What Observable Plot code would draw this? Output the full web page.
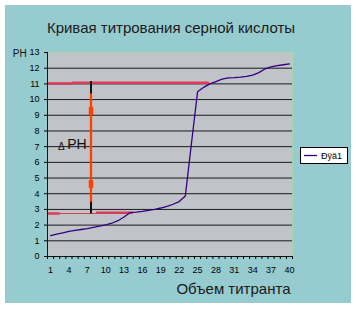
<!DOCTYPE html>
<html>
<head>
<meta charset="utf-8">
<script src="https://cdn.jsdelivr.net/npm/d3@7"></script>
<script src="https://cdn.jsdelivr.net/npm/@observablehq/plot@0.6"></script>
<style>
  html, body { margin: 0; padding: 0; background: #ffffff; }
  #chart { width: 356px; height: 309px; }
</style>
</head>
<body>
<div id="chart"></div>
<script>
// ---- data ----
const titleText = "Кривая титрования серной кислоты";
const yAxisLabel = "PH";
const xAxisTitle = "Объем титранта";
const seriesName = "Ðÿä1";

const volumes = [1,2,3,4,5,6,7,8,9,10,11,12,13,14,15,16,17,18,19,20,
                 21,22,23,24,25,26,27,28,29,30,31,32,33,34,35,36,37,38,39,40];
const phValues = [1.33,1.42,1.5,1.6,1.66,1.72,1.78,1.86,1.94,2.02,2.12,2.28,2.52,2.8,2.83,2.88,2.94,3.01,3.09,3.2,
                  3.33,3.5,3.85,7.2,10.5,10.78,11.0,11.15,11.3,11.38,11.4,11.43,11.48,11.56,11.72,11.95,12.08,12.17,12.22,12.27];

const xTickLabels = [1,4,7,10,13,16,19,22,25,28,31,34,37,40];
const yTicks = [0,1,2,3,4,5,6,7,8,9,10,11,12,13];
const gridLevels = [1,2,3,4,5,6,7,8,9,10,11,12];

// annotation: red reference levels and the ΔPH marker
const upperRed = [{x1: 0.5, x2: 4.6, y: 11.03}, {x1: 4.6, x2: 26.95, y: 11.08}];
const lowerRedThick = [{x1: 0.5, x2: 2.6, y: 2.74}, {x1: 8.5, x2: 14.5, y: 2.79}];
const lowerRedThin = [{x1: 2.6, x2: 8.5, y: 2.74}];
const deltaX = 7.6;
const blackSpan = [{y1: 2.72, y2: 11.15}];
const orangeSpan = [{y1: 3.46, y2: 10.36}];
const orangeBulges = [{y1: 8.98, y2: 9.5}, {y1: 4.33, y2: 4.84}];
const deltaSymbol = [{x: 2.2, y: 6.8, t: "Δ"}];
const deltaText = [{x: 3.72, y: 6.86, t: "PH"}];

const data = volumes.map((v, i) => ({v, ph: phValues[i]}));
const boundaries = d3.range(0.5, 41, 1);

const font = "'Liberation Sans', Arial, sans-serif";
const red = "#dc3c5a";
const orange = "#ff4000";

const chart = Plot.plot({
  width: 356,
  height: 309,
  marginLeft: 47,
  marginRight: 64,
  marginTop: 52,
  marginBottom: 53,
  x: {domain: [0.5, 40.5]},
  y: {domain: [0, 13]},
  style: {
    background: "linear-gradient(#96ccd0, #96ccd0) 5px 5px / 346px 298px no-repeat, #ffffff",
    fontFamily: font,
    color: "#000",
    overflow: "visible"
  },
  marks: [
    Plot.frame({fill: "#c0c4c8", stroke: null}),
    Plot.ruleY(gridLevels, {stroke: "#1a1a1a", strokeWidth: 1}),
    Plot.ruleY([13], {stroke: "#a6d8b4", strokeWidth: 1}),
    Plot.ruleX([40.5], {stroke: "#a6d8b4", strokeWidth: 1}),
    // red reference levels
    Plot.ruleY(upperRed, {x1: "x1", x2: "x2", y: "y", stroke: red, strokeWidth: 2.5}),
    Plot.ruleY(lowerRedThick, {x1: "x1", x2: "x2", y: "y", stroke: red, strokeWidth: 2.5}),
    Plot.ruleY(lowerRedThin, {x1: "x1", x2: "x2", y: "y", stroke: red, strokeWidth: 1}),
    // titration curve
    Plot.line(data, {x: "v", y: "ph", stroke: "#330080", strokeWidth: 1.3}),
    // ΔPH marker
    Plot.ruleX(blackSpan, {x: () => deltaX, y1: "y1", y2: "y2", stroke: "#111", strokeWidth: 2}),
    Plot.ruleX(orangeSpan, {x: () => deltaX, y1: "y1", y2: "y2", stroke: orange, strokeWidth: 2.3}),
    Plot.ruleX(orangeBulges, {x: () => deltaX, y1: "y1", y2: "y2", stroke: orange, strokeWidth: 4.5}),
    Plot.text(deltaSymbol, {x: "x", y: "y", text: "t", fontSize: 10, textAnchor: "start", lineAnchor: "bottom", fill: "#111"}),
    Plot.text(deltaText, {x: "x", y: "y", text: "t", fontSize: 14, textAnchor: "start", lineAnchor: "bottom", fill: "#111"}),
    // axis lines
    Plot.ruleY([0], {stroke: "#111", strokeWidth: 1}),
    Plot.ruleX([0.5], {stroke: "#111", strokeWidth: 1}),
    // axes
    Plot.axisY(yTicks, {tickSize: 3, tickPadding: 5, fontSize: 9, label: null}),
    Plot.axisX(boundaries, {tickSize: 3, tickFormat: () => "", label: null}),
    Plot.axisX(xTickLabels, {tickSize: 0, tickPadding: 10, fontSize: 9, label: null}),
    // titles
    Plot.text([titleText], {frameAnchor: "top", dx: 1, dy: -19.7, lineAnchor: "bottom", fontSize: 15, fill: "#1a1a1a"}),
    Plot.text([yAxisLabel], {frameAnchor: "top-left", textAnchor: "start", dx: -34.7, dy: 4.7, lineAnchor: "bottom", fontSize: 10, fill: "#111"}),
    Plot.text([xAxisTitle], {frameAnchor: "bottom-right", textAnchor: "end", dx: -2, dy: 37.3, lineAnchor: "bottom", fontSize: 15, fill: "#1a1a1a"})
  ]
});

// legend box at the right of the plot area
const svg = d3.select(chart);
const lg = svg.append("g").attr("font-family", font).attr("text-anchor", "start");
lg.append("rect").attr("x", 300.5).attr("y", 147.5).attr("width", 47).attr("height", 16)
  .attr("fill", "#ffffff").attr("stroke", "#000").attr("stroke-width", 1);
lg.append("line").attr("x1", 304).attr("x2", 317).attr("y1", 155.5).attr("y2", 155.5)
  .attr("stroke", "#330080").attr("stroke-width", 1.3);
lg.append("text").attr("x", 321).attr("y", 158.8).attr("font-size", 9).attr("fill", "#000")
  .attr("text-anchor", "start").text(seriesName);

document.getElementById("chart").appendChild(chart);
</script>
</body>
</html>
